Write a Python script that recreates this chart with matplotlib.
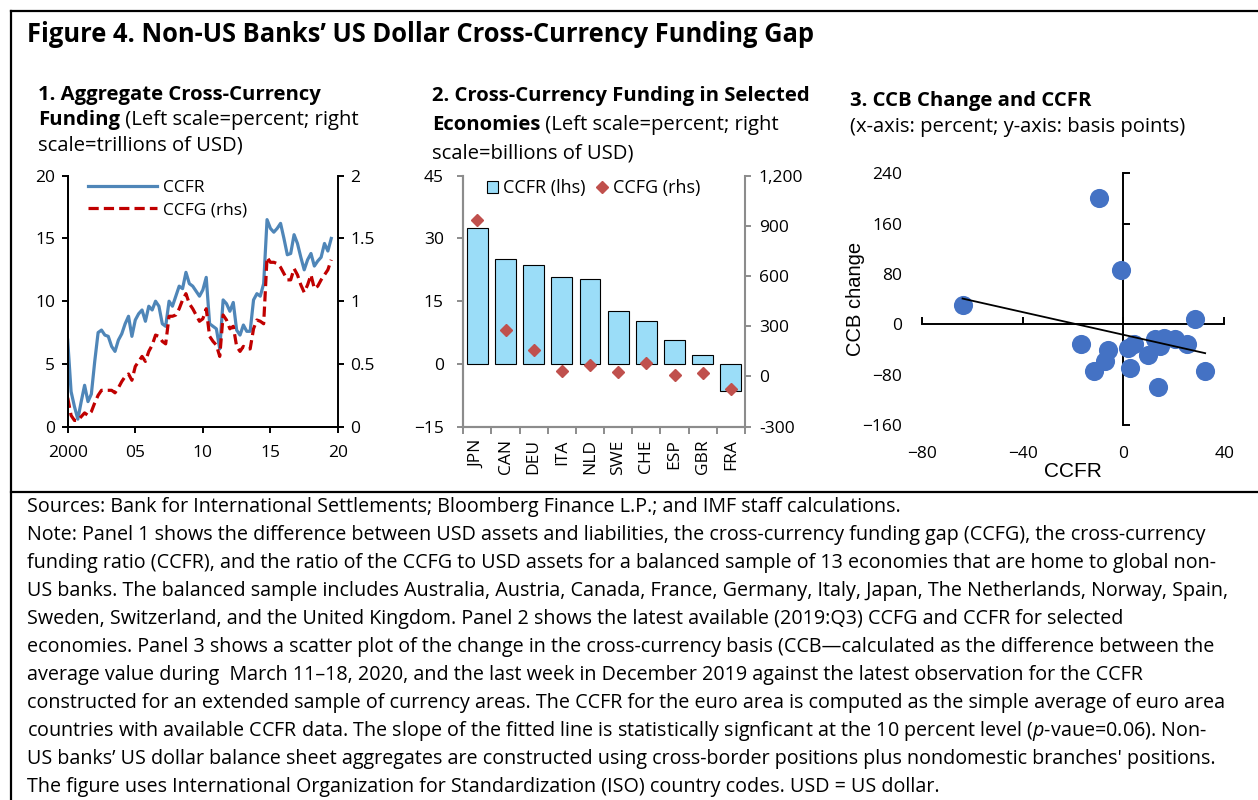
import numpy as np
import pandas as pd
import matplotlib
matplotlib.use('Agg')
import matplotlib.pyplot as plt
from matplotlib.lines import Line2D
from matplotlib.patches import Patch

plt.rcParams['font.family'] = ['Open Sans', 'DejaVu Sans']
plt.rcParams['mathtext.fontset'] = 'custom'
plt.rcParams['mathtext.rm'] = 'Open Sans'
plt.rcParams['mathtext.it'] = 'Open Sans:italic'

# ---- data -----------------------------------------------------------------
quarters = pd.period_range('2000Q1', '2019Q3', freq='Q')

# Panel 1: CCFR (percent, lhs) and CCFG (trillions of USD, rhs)
ccfr = [6.9, 2.8, 1.6, 0.6,
        2.0, 3.3, 2.0, 2.6,
        5.2, 7.5, 7.7, 7.3,
        7.2, 6.4, 6.0, 6.9,
        7.4, 8.2, 8.8, 7.2,
        8.5, 9.0, 9.3, 8.4,
        9.6, 9.3, 10.0, 9.6,
        8.2, 8.0, 10.0, 9.6,
        10.4, 11.2, 11.0, 12.3,
        11.4, 11.2, 10.8, 10.4,
        10.9, 11.9, 8.2, 8.0,
        7.8, 6.2, 10.1, 9.8,
        9.2, 9.9, 7.7, 7.3,
        8.1, 7.6, 7.6, 10.1,
        10.6, 10.4, 11.4, 16.5,
        15.8, 15.5, 15.8, 16.2,
        15.0, 13.7, 13.8, 15.3,
        14.6, 13.5, 12.5, 13.3,
        13.8, 12.8, 13.2, 13.5,
        14.6, 14.0, 15.0]
ccfg = [0.23, 0.09, 0.05, 0.05,
        0.08, 0.11, 0.09, 0.12,
        0.19, 0.25, 0.29, 0.29,
        0.29, 0.29, 0.27, 0.31,
        0.36, 0.40, 0.42, 0.37,
        0.48, 0.52, 0.56, 0.52,
        0.60, 0.65, 0.73, 0.72,
        0.68, 0.66, 0.88, 0.88,
        0.89, 0.94, 1.01, 1.06,
        0.98, 0.94, 0.89, 0.84,
        0.86, 0.94, 0.72, 0.68,
        0.65, 0.56, 0.89, 0.85,
        0.78, 0.80, 0.64, 0.60,
        0.64, 0.62, 0.62, 0.78,
        0.85, 0.84, 0.82, 1.35,
        1.31, 1.31, 1.30, 1.27,
        1.22, 1.17, 1.17, 1.26,
        1.21, 1.13, 1.07, 1.13,
        1.21, 1.10, 1.12, 1.17,
        1.21, 1.25, 1.33]
year_ticks = [2000, 2005, 2010, 2015, 2020]
year_labels = ['2000', '05', '10', '15', '20']

# Panel 2: latest (2019:Q3) values by economy
countries = ['JPN', 'CAN', 'DEU', 'ITA', 'NLD', 'SWE', 'CHE', 'ESP', 'GBR', 'FRA']
ccfr_latest = [32.6, 25.2, 23.6, 20.7, 20.4, 12.6, 10.2, 5.7, 2.1, -6.4]
ccfg_latest = [936, 277, 157, 30, 70, 24, 82, 6, 20, -76]

# Panel 3: CCFR (percent) vs change in CCB (basis points)
scatter_ccfr = [-63.8, -9.5, -0.9, 28.2, -16.8, -6.2, -7.3, -11.5, 2.7, 2.0,
                4.0, 9.9, 12.6, 15.9, 14.6, 20.5, 25.2, 32.4, 13.7]
scatter_ccb = [30.9, 201, 87, 8, -31, -41.5, -58.5, -74.5, -69, -37,
               -32, -48, -24, -21, -35, -24, -32, -74.5, -100]

notes = [
    "Sources: Bank for International Settlements; Bloomberg Finance L.P.; and IMF staff calculations.",
    "Note: Panel 1 shows the difference between USD assets and liabilities, the cross-currency funding gap (CCFG), the cross-currency",
    "funding ratio (CCFR), and the ratio of the CCFG to USD assets for a balanced sample of 13 economies that are home to global non-",
    "US banks. The balanced sample includes Australia, Austria, Canada, France, Germany, Italy, Japan, The Netherlands, Norway, Spain,",
    "Sweden, Switzerland, and the United Kingdom. Panel 2 shows the latest available (2019:Q3) CCFG and CCFR for selected",
    "economies. Panel 3 shows a scatter plot of the change in the cross-currency basis (CCB\u2014calculated as the difference between the",
    "average value during  March 11\u201318, 2020, and the last week in December 2019 against the latest observation for the CCFR",
    "constructed for an extended sample of currency areas. The CCFR for the euro area is computed as the simple average of euro area",
    "countries with available CCFR data. The slope of the fitted line is statistically signficant at the 10 percent level ($\\mathit{p}$-vaue=0.06). Non-",
    "US banks\u2019 US dollar balance sheet aggregates are constructed using cross-border positions plus nondomestic branches' positions.",
    "The figure uses International Organization for Standardization (ISO) country codes. USD = US dollar.",
]

BLUE = '#4F86B8'
DARK_RED = '#C00000'
BAR_BLUE = '#9BDDF8'
DIAMOND_RED = '#C0504D'
DOT_BLUE = '#4472C4'
GREY = '#8C8C8C'

W, H = 1258, 800
TICK_FS = 12.5
TITLE_FS = 14.6
NOTE_FS = 14.25

fig = plt.figure(figsize=(W / 100, H / 100), dpi=100)


def fig_text(x, y, s, **kw):
    """Place text using pixel coordinates measured from the top-left corner."""
    kw.setdefault('va', 'center')
    return fig.text(x / W, 1 - y / H, s, **kw)


def fig_line(x0, y0, x1, y1):
    fig.add_artist(Line2D([x0 / W, x1 / W], [1 - y0 / H, 1 - y1 / H],
                          transform=fig.transFigure, color='black', lw=1.6))


def mixed_line(ax, x, y, bold, regular):
    """Bold lead-in followed by regular text on the same line."""
    b = fig_text(x, y, bold, fontsize=TITLE_FS, weight='bold')
    ax.annotate(regular, xy=(1, 0), xycoords=b, va='bottom', ha='left',
                fontsize=TITLE_FS, annotation_clip=False)


def axes_px(left, top, right, bottom):
    return fig.add_axes([left / W, 1 - bottom / H, (right - left) / W, (bottom - top) / H])


# ---- frame ----------------------------------------------------------------
fig_line(11, 11, W, 11)
fig_line(11, 11, 11, H)
fig_line(11, 492, W, 492)
fig_text(27, 34, 'Figure 4. Non-US Banks\u2019 US Dollar Cross-Currency Funding Gap',
         fontsize=18.4, weight='bold')

# ---- panel 1 ----------------------------------------------------------------
x_years = quarters.year + (quarters.quarter - 1) / 4

ax1 = axes_px(67.7, 175.7, 338, 426.7)
ax1r = ax1.twinx()
ax1.plot(x_years, ccfr, color=BLUE, lw=2.3, label='CCFR')
ax1r.plot(x_years, ccfg, color=DARK_RED, lw=2.3, dashes=(3.2, 1.6), label='CCFG (rhs)')
ax1.set_xlim(2000, 2020)
ax1.set_ylim(0, 20)
ax1r.set_ylim(0, 2)
ax1.set_xticks(year_ticks)
ax1.set_xticklabels(year_labels)
ax1.set_yticks([0, 5, 10, 15, 20])
ax1r.set_yticks([0, 0.5, 1, 1.5, 2])
ax1r.set_yticklabels(['0', '0.5', '1', '1.5', '2'])
for a in (ax1, ax1r):
    a.spines['top'].set_visible(False)
    for s in a.spines.values():
        s.set_linewidth(1.4)
    a.tick_params(labelsize=TICK_FS, width=1.4, length=4, pad=5)
ax1.tick_params(axis='x', pad=9)
ax1.spines['right'].set_visible(False)
h1, l1 = ax1.get_legend_handles_labels()
h2, l2 = ax1r.get_legend_handles_labels()
ax1r.legend(h1 + h2, l1 + l2, loc='upper left', bbox_to_anchor=(0.075, 0.985),
            frameon=False, fontsize=TICK_FS, handlelength=4.0, handletextpad=0.35,
            labelspacing=0.38, borderpad=0, borderaxespad=0)

fig_text(38, 95, '1. Aggregate Cross-Currency', fontsize=TITLE_FS, weight='bold')
mixed_line(ax1, 38, 120, 'Funding', ' (Left scale=percent; right')
fig_text(38, 145, 'scale=trillions of USD)', fontsize=TITLE_FS)

# ---- panel 2 ----------------------------------------------------------------
pos = np.arange(len(countries))
ax2 = axes_px(463.3, 175.7, 745, 426.7)
ax2r = ax2.twinx()
ax2.bar(pos, ccfr_latest, width=0.74, color=BAR_BLUE, edgecolor='black', lw=0.8)
ax2r.plot(pos, ccfg_latest, 'D', color=DIAMOND_RED, ms=6.5, ls='none')
ax2.set_xlim(-0.5, len(countries) - 0.5)
ax2.set_ylim(-15, 45)
ax2.set_yticks([-15, 0, 15, 30, 45])
ax2r.set_ylim(-300, 1200)
ax2r.set_yticks([-300, 0, 300, 600, 900, 1200])
ax2r.set_yticklabels([f'{v:,}' for v in [-300, 0, 300, 600, 900, 1200]])
ax2.set_xticks(pos)
ax2.set_xticklabels(countries, rotation=90)
ax2.set_xticks(np.arange(len(countries) + 1) - 0.5, minor=True)
ax2.tick_params(axis='x', which='major', length=0, pad=9, labelsize=TICK_FS)
ax2.tick_params(axis='x', which='minor', length=5, width=1.4, color=GREY)
for a in (ax2, ax2r):
    a.spines['top'].set_visible(False)
    for s in a.spines.values():
        s.set_color(GREY)
        s.set_linewidth(1.5)
    a.tick_params(axis='y', labelsize=TICK_FS, width=1.4, length=4, color=GREY, pad=6)
ax2.tick_params(axis='y', pad=10)
ax2.spines['right'].set_visible(False)
legend_handles = [Patch(facecolor=BAR_BLUE, edgecolor='black', lw=0.8),
                  Line2D([], [], marker='D', color=DIAMOND_RED, ls='none', ms=6.5)]
ax2r.legend(legend_handles, ['CCFR (lhs)', 'CCFG (rhs)'], loc='upper left', ncol=2,
            bbox_to_anchor=(0.085, 0.985), frameon=False, fontsize=TICK_FS + 0.5,
            handlelength=0.6, handleheight=0.6, handletextpad=0.3, columnspacing=0.6,
            borderpad=0, borderaxespad=0)

fig_text(432, 96, '2. Cross-Currency Funding in Selected', fontsize=TITLE_FS, weight='bold')
mixed_line(ax2, 432, 125, 'Economies', ' (Left scale=percent; right')
fig_text(432, 153, 'scale=billions of USD)', fontsize=TITLE_FS)

# ---- panel 3 ----------------------------------------------------------------
ax3 = axes_px(921.7, 173.3, 1224.3, 425)
ax3.scatter(scatter_ccfr, scatter_ccb, s=190, color=DOT_BLUE, zorder=3, linewidths=0)
slope, intercept = np.polyfit(scatter_ccfr, scatter_ccb, 1)
fit_x = np.array([min(scatter_ccfr), max(scatter_ccfr)])
ax3.plot(fit_x, slope * fit_x + intercept, color='black', lw=1.3, zorder=4)
ax3.set_xlim(-80, 40)
ax3.set_ylim(-160, 240)
x_ticks3 = [-80, -40, 0, 40]
y_ticks3 = [-160, -80, 0, 80, 160, 240]
ax3.set_xticks(x_ticks3)
ax3.set_yticks(y_ticks3)
ax3.spines['left'].set_position(('data', 0))
ax3.spines['bottom'].set_position(('data', 0))
ax3.spines['top'].set_visible(False)
ax3.spines['right'].set_visible(False)
for s in ax3.spines.values():
    s.set_linewidth(1.4)
ax3.tick_params(direction='in', length=5, width=1.4, labelleft=False, labelbottom=False)

sx = ax3.secondary_xaxis('bottom')
sx.set_xticks(x_ticks3)
sx.spines['bottom'].set_visible(False)
sx.tick_params(length=0, pad=15, labelsize=TICK_FS)
sx.set_xlabel('CCFR', family=['Liberation Sans'], fontsize=15, labelpad=0)
sy = ax3.secondary_yaxis('left')
sy.set_yticks(y_ticks3)
sy.spines['left'].set_visible(False)
sy.tick_params(length=0, pad=14, labelsize=TICK_FS)
sy.set_ylabel('CCB change', family=['Liberation Sans'], fontsize=14.5, labelpad=-2)

fig_text(850, 101, '3. CCB Change and CCFR', fontsize=TITLE_FS, weight='bold')
fig_text(850, 127, '(x-axis: percent; y-axis: basis points)', fontsize=TITLE_FS)

# ---- notes ------------------------------------------------------------------
for i, line in enumerate(notes):
    fig_text(27, 507 + i * 28.0, line, fontsize=NOTE_FS)

fig.savefig('out.png', dpi=100)
